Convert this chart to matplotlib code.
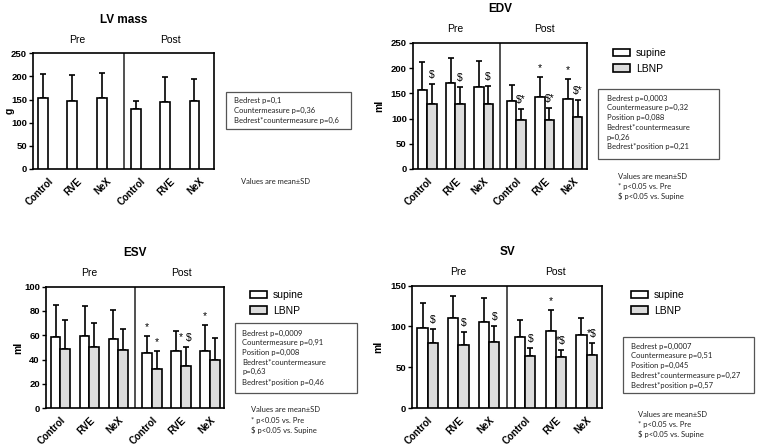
import matplotlib
matplotlib.use("Agg")
import matplotlib.pyplot as plt
from matplotlib.patches import Rectangle
import numpy as np

# ---------------- data ----------------
groups = ["Pre", "Post"]
categories = ["Control", "RVE", "NeX", "Control", "RVE", "NeX"]
series_names = ["supine", "LBNP"]

lv_mass_mean = [154, 148, 153, 130, 144, 146]
lv_mass_sd = [51, 56, 54, 18, 55, 49]

edv_supine_mean = [157, 171, 163, 134, 143, 138]
edv_supine_sd = [55, 49, 52, 32, 40, 40]
edv_lbnp_mean = [128, 128, 128, 97, 97, 104]
edv_lbnp_sd = [41, 35, 37, 22, 24, 32]
edv_supine_sig = ["", "", "", "", "*", "*"]
edv_lbnp_sig = ["$", "$", "$", "$*", "$*", "$*"]

esv_supine_mean = [58.4, 59.5, 57.3, 45.2, 47.1, 47.4]
esv_supine_sd = [26.8, 24.3, 23.5, 14.3, 16.5, 20.6]
esv_lbnp_mean = [49.0, 50.4, 48.0, 32.0, 34.5, 39.7]
esv_lbnp_sd = [23.9, 20.0, 17.0, 15.1, 15.6, 18.1]
esv_supine_sig = ["", "", "", "*", "", "*"]
esv_lbnp_sig = ["", "", "", "*", "* $", ""]

sv_supine_mean = [98.5, 110.7, 105.0, 87.5, 94.8, 89.9]
sv_supine_sd = [30.2, 27.0, 29.4, 20.4, 25.8, 20.8]
sv_lbnp_mean = [79.3, 77.6, 81.0, 64.2, 62.1, 64.6]
sv_lbnp_sd = [18.0, 16.0, 20.0, 9.8, 9.0, 15.5]
sv_supine_sig = ["", "", "", "", "*", ""]
sv_lbnp_sig = ["$", "$", "$", "$", "*$", "*$"]

lv_stats = ["Bedrest p=0,1", "Countermeasure p=0,36", "Bedrest*countermeasure p=0,6"]
edv_stats = ["Bedrest p=0,0003", "Countermeasure p=0,32", "Position p=0,088",
             "Bedrest*countermeasure", "p=0,26", "Bedrest*position p=0,21"]
esv_stats = ["Bedrest p=0,0009", "Countermeasure p=0,91", "Position p=0,008",
             "Bedrest*countermeasure", "p=0,63", "Bedrest*position p=0,46"]
sv_stats = ["Bedrest p=0,0007", "Countermeasure p=0,51", "Position p=0,045",
            "Bedrest*countermeasure p=0,27", "Bedrest*position p=0,57"]
notes_short = ["Values are mean\u00b1SD"]
notes_long = ["Values are mean\u00b1SD", "* p<0.05 vs. Pre", "$ p<0.05 vs. Supine"]

# ---------------- style ----------------
W, H = 758, 446
fig = plt.figure(figsize=(W / 100, H / 100), dpi=100)
plt.rcParams["font.family"] = ["Liberation Sans", "DejaVu Sans"]
BOXFONT = ["Lato", "DejaVu Sans"]
BOXFS = 5.5
GREY = "#dcdcdc"
LW = 1.2

xpos = np.array([0, 1, 2, 3.17, 4.17, 5.17])
BW = 0.335
DIV = 2.585


def px_axes(l, t, r, b):
    return fig.add_axes([l / W, 1 - b / H, (r - l) / W, (b - t) / H])


def fig_text(x, y, s, **kw):
    fig.text(x / W, 1 - y / H, s, **kw)


def draw_panel(ax, title, ylabel, ymax, ystep, series, sigs, ylab_x):
    n = len(series)
    offsets = [-BW / 2, BW / 2] if n == 2 else [-BW / 2]
    colors = ["white", GREY]
    handles = []
    for i, (mean, sd) in enumerate(series):
        x = xpos + offsets[i]
        ax.errorbar(x, mean, yerr=[np.zeros(len(sd)), sd], fmt="none",
                    ecolor="black", elinewidth=LW, capsize=2.2, capthick=LW, zorder=2)
        b = ax.bar(x, mean, width=BW, color=colors[i], edgecolor="black",
                   linewidth=LW, zorder=3, label=series_names[i])
        handles.append(b)
        if sigs is not None:
            for xi, m, s, t in zip(x, mean, sd, sigs[i]):
                if t:
                    ax.annotate(t, (xi, m + s), xytext=(0, 6.5), textcoords="offset points",
                                ha="center", va="center", fontsize=7.5, zorder=4)
    ax.axvline(DIV, color="#333333", lw=LW, zorder=1)
    ax.set_xlim(-0.5, 5.67)
    ax.set_ylim(0, ymax)
    ax.set_yticks(np.arange(0, ymax + 0.1, ystep))
    ax.set_xticks(xpos)
    ax.set_xticklabels(categories, rotation=45, ha="right", va="top",
                       rotation_mode="anchor", fontweight="bold", fontsize=7)
    ax.tick_params(axis="x", length=0, pad=5)
    ax.tick_params(axis="y", length=3, width=1, labelsize=6.8, pad=1.5)
    for lab in ax.get_yticklabels():
        lab.set_fontweight("bold")
    for sp in ax.spines.values():
        sp.set_linewidth(LW)
    ax.set_ylabel(ylabel, fontweight="bold", fontsize=7.5)
    ax.yaxis.set_label_coords(ylab_x, 0.5)
    ax.set_title(title, fontweight="bold", fontsize=8.5, pad=22)
    ax.text((xpos[0] + xpos[2]) / 2, 1.07, groups[0], transform=ax.get_xaxis_transform(),
            ha="center", va="bottom", fontsize=7.5)
    ax.text((xpos[3] + xpos[5]) / 2, 1.07, groups[1], transform=ax.get_xaxis_transform(),
            ha="center", va="bottom", fontsize=7.5)
    return handles


def stats_box(l, t, r, b, tx, lines_y, lines):
    fig.patches.append(Rectangle((l / W, 1 - b / H), (r - l) / W, (b - t) / H,
                                 transform=fig.transFigure, fill=False,
                                 edgecolor="#555555", linewidth=0.9))
    for y, s in zip(lines_y, lines):
        fig_text(tx, y, s, ha="left", va="center", fontsize=BOXFS, family=BOXFONT, color="#222222")


def notes(x, ys, lines):
    for y, s in zip(ys, lines):
        fig_text(x, y, s, ha="left", va="center", fontsize=BOXFS, family=BOXFONT, color="#222222")


def legend(ax, handles, x, y):
    ax.legend(handles=handles, loc="upper left", bbox_to_anchor=(x / W, 1 - y / H),
              bbox_transform=fig.transFigure, frameon=False, fontsize=7.5,
              handlelength=1.6, handleheight=0.7, labelspacing=0.55, handletextpad=0.6,
              borderaxespad=0, borderpad=0)


# ---------------- LV mass ----------------
ax1 = px_axes(33.3, 53.3, 214, 169)
draw_panel(ax1, "LV mass", "g", 250, 50, [(lv_mass_mean, lv_mass_sd)], None, -0.105)
stats_box(226, 92, 351, 129, 233.7, [100.7, 110.8, 120.7], lv_stats)
notes(241, [181.3], notes_short)

# ---------------- EDV ----------------
ax2 = px_axes(413, 43, 587, 169)
h = draw_panel(ax2, "EDV", "ml", 250, 50,
               [(edv_supine_mean, edv_supine_sd), (edv_lbnp_mean, edv_lbnp_sd)],
               [edv_supine_sig, edv_lbnp_sig], -0.165)
legend(ax2, h, 613, 48)
stats_box(598, 89, 719, 159, 606.7, [98.3, 107.9, 117.6, 127.3, 137.0, 146.7], edv_stats)
notes(617.7, [176.3, 186.3, 196.0], notes_long)

# ---------------- ESV ----------------
ax3 = px_axes(46, 286.5, 224.3, 408.3)
h = draw_panel(ax3, "ESV", "ml", 100, 20,
               [(esv_supine_mean, esv_supine_sd), (esv_lbnp_mean, esv_lbnp_sd)],
               [esv_supine_sig, esv_lbnp_sig], -0.13)
legend(ax3, h, 250, 290)
stats_box(235.3, 323.3, 357.3, 392.7, 242.3, [333.3, 342.9, 352.5, 362.1, 371.7, 382.0], esv_stats)
notes(251, [410, 420, 430], notes_long)

# ---------------- SV ----------------
ax4 = px_axes(412.3, 285.7, 602, 408)
h = draw_panel(ax4, "SV", "ml", 150, 50,
               [(sv_supine_mean, sv_supine_sd), (sv_lbnp_mean, sv_lbnp_sd)],
               [sv_supine_sig, sv_lbnp_sig], -0.155)
legend(ax4, h, 631, 290)
stats_box(623, 336.7, 754, 392.7, 630.7, [346.0, 355.8, 365.6, 375.4, 385.0], sv_stats)
notes(637.7, [414.3, 424.2, 434.3], notes_long)

fig.savefig("out.png", dpi=100, facecolor="white")
